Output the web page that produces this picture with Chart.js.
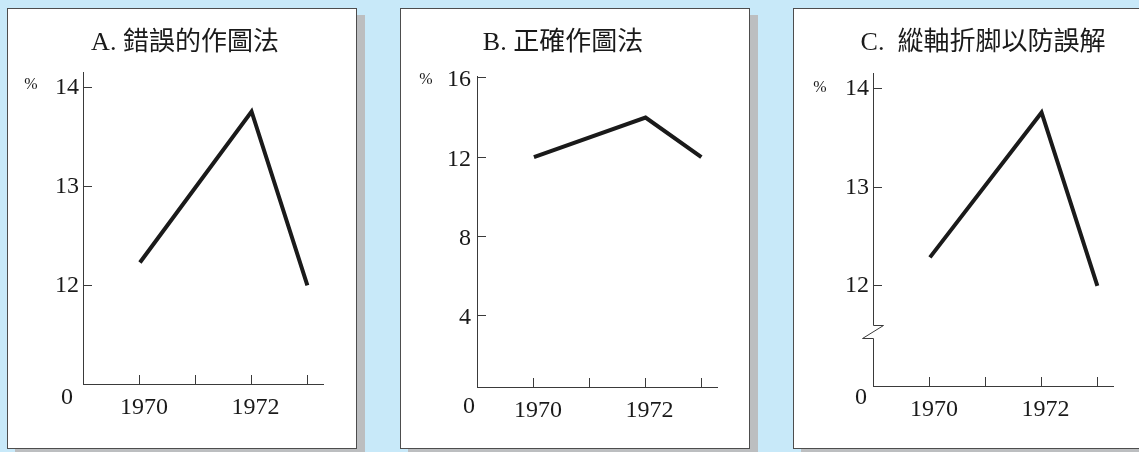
<!DOCTYPE html>
<html>
<head>
<meta charset="utf-8">
<script src="https://cdn.jsdelivr.net/npm/chart.js@4"></script>
<style>
  html, body { margin: 0; padding: 0; }
  body {
    width: 1139px; height: 452px; overflow: hidden;
    background: #c8e9f9; position: relative;
  }
  .panel {
    position: absolute; top: 8px; width: 350px; height: 441px;
    box-sizing: border-box; background: #fff;
    border: 1px solid #4d4d4d;
    box-shadow: 8px 7px 0 0 #bcbec0;
  }
  .panel canvas { display: block; }
</style>
</head>
<body>
<div class="panel" style="left:7px"><canvas id="chartA" width="348" height="439"></canvas></div>
<div class="panel" style="left:400px"><canvas id="chartB" width="348" height="439"></canvas></div>
<div class="panel" style="left:793px"><canvas id="chartC" width="348" height="439"></canvas></div>

<script>
// ============================================================
// Data
// ============================================================
const years = [1970, 1972, 1973];
const valuesA = [12.23, 13.76, 12.0];
const valuesB = [12.0, 14.0, 12.0];
const valuesC = [12.29, 13.76, 12.0];

const xTicks = [1970, 1971, 1972, 1973];
const xTickLabels = ["1970", "", "1972", ""];

const yTicksA = [12, 13, 14];
const yTicksB = [4, 8, 12, 16];
const yTicksC = [12, 13, 14];

const titles = ["A. 錯誤的作圖法", "B. 正確作圖法", "C.  縱軸折脚以防誤解"];
const breakRangeC = [11.47, 11.6]; // where the y axis is broken in panel C

const SERIF = "'Liberation Serif', 'Noto Sans CJK TC', serif";
const INK = "#1a1a1a";
const AXIS = "#3a3a3a";

// ============================================================
// Small plugin: title, "%" and "0" labels, axis break
// ============================================================
const panelText = {
  id: "panelText",
  afterDraw(chart, args, opts) {
    const ctx = chart.ctx;
    const area = chart.chartArea;
    ctx.save();
    ctx.fillStyle = INK;
    ctx.textBaseline = "middle";

    ctx.textAlign = "center";
    ctx.font = "26px " + SERIF;
    ctx.fillText(opts.title, opts.titleX, 34);

    ctx.font = "16px " + SERIF;
    ctx.fillText("%", area.left + opts.pct[0], area.top + opts.pct[1]);

    ctx.font = "24px " + SERIF;
    ctx.fillText("0", area.left + opts.zero[0], area.bottom + opts.zero[1]);

    if (opts.brk) {
      const y = chart.scales.y;
      const x0 = area.left + 0.5;
      const yTop = Math.round(y.getPixelForValue(opts.brk[1])) + 0.5;
      const yBot = Math.round(y.getPixelForValue(opts.brk[0])) + 0.5;
      ctx.fillStyle = "#fff";
      ctx.fillRect(x0 - 2, yTop, 4, yBot - yTop);
      ctx.strokeStyle = AXIS;
      ctx.lineWidth = 1;
      ctx.beginPath();
      ctx.moveTo(x0, yTop);
      ctx.lineTo(x0 + 10, yTop);
      ctx.lineTo(x0 - 11, yBot);
      ctx.lineTo(x0, yBot);
      ctx.stroke();
    }
    ctx.restore();
  },
};

// ============================================================
// Chart builder
// ============================================================
function makePanel(id, values, cfg) {
  const points = years.map((yr, i) => ({ x: yr, y: values[i] }));

  return new Chart(document.getElementById(id), {
    type: "line",
    data: {
      datasets: [
        {
          data: points,
          borderColor: INK,
          borderWidth: 4,
          borderJoinStyle: "miter",
          borderCapStyle: "butt",
          pointRadius: 0,
          tension: 0,
          fill: false,
        },
      ],
    },
    options: {
      responsive: false,
      animation: false,
      events: [],
      layout: { padding: { left: 0, right: cfg.padRight, top: cfg.padTop, bottom: 0 } },
      plugins: {
        legend: { display: false },
        title: { display: false },
        tooltip: { enabled: false },
        panelText: { title: cfg.title, titleX: cfg.titleX, pct: cfg.pct, zero: cfg.zero, brk: cfg.brk },
      },
      scales: {
        x: {
          type: "linear",
          min: 1968.98,
          max: 1973.28,
          afterBuildTicks: (s) => { s.ticks = xTicks.map((v) => ({ value: v })); },
          afterFit: (s) => { s.height = cfg.xHeight; },
          grid: { drawOnChartArea: false, tickLength: -9, color: AXIS, tickWidth: 1 },
          border: { display: true, color: AXIS, width: 1 },
          ticks: {
            padding: 18,
            labelOffset: 4,
            maxRotation: 0,
            autoSkip: false,
            color: INK,
            font: { family: SERIF, size: 24 },
            callback: (v) => xTickLabels[xTicks.indexOf(v)] ?? "",
          },
        },
        y: {
          min: cfg.yMin,
          max: cfg.yMax,
          afterBuildTicks: (s) => { s.ticks = cfg.yTicks.map((v) => ({ value: v })); },
          afterFit: (s) => { s.width = cfg.yWidth; },
          grid: { drawOnChartArea: false, tickLength: -9, color: AXIS, tickWidth: 1 },
          border: { display: true, color: AXIS, width: 1 },
          ticks: {
            padding: cfg.yPad,
            labelOffset: cfg.yLabelOffset,
            color: INK,
            font: { family: SERIF, size: 24 },
            callback: (v) => String(v),
          },
        },
      },
    },
    plugins: [panelText],
  });
}

window.addEventListener("load", function () {
  makePanel("chartA", valuesA, {
    title: titles[0], titleX: 177,
    yMin: 11, yMax: 14.16, yTicks: yTicksA,
    padTop: 63, padRight: 33, yWidth: 75, xHeight: 64,
    yPad: 13, yLabelOffset: 0,
    pct: [-52, 13], zero: [-16, 14],
  });

  makePanel("chartB", valuesB, {
    title: titles[1], titleX: 162,
    yMin: 0.4, yMax: 16.1, yTicks: yTicksB,
    padTop: 67, padRight: 32, yWidth: 76, xHeight: 61,
    yPad: 15, yLabelOffset: 2,
    pct: [-51, 4], zero: [-8, 20],
  });

  makePanel("chartC", valuesC, {
    title: titles[2], titleX: 189,
    yMin: 10.985, yMax: 14.16, yTicks: yTicksC,
    padTop: 64, padRight: 29, yWidth: 79, xHeight: 62,
    yPad: 13, yLabelOffset: 0,
    pct: [-53, 15], zero: [-12, 12], brk: breakRangeC,
  });
});
</script>
</body>
</html>
